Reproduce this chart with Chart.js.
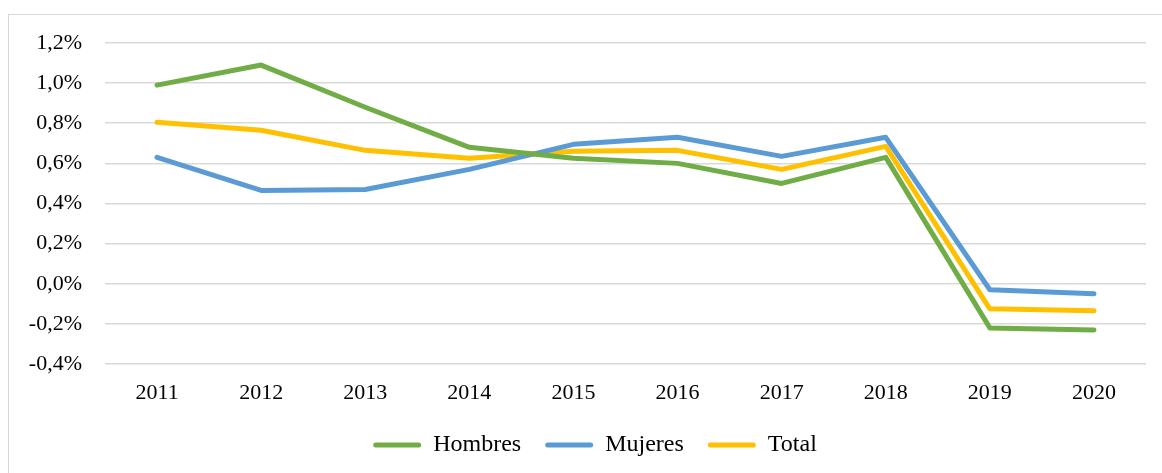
<!DOCTYPE html>
<html>
<head>
<meta charset="utf-8">
<script src="https://cdn.jsdelivr.net/npm/chart.js@4.4.1/dist/chart.umd.min.js"></script>
<style>
  html, body { margin: 0; padding: 0; background: #fff; }
  #wrap { position: relative; width: 1162px; height: 473px; overflow: hidden; }
  #frame { position: absolute; left: 8px; top: 14px; width: 1200px; height: 500px; border: 1px solid #d9d9d9; box-sizing: border-box; }
  canvas { position: absolute; left: 0; top: 0; }
</style>
</head>
<body>
<div id="wrap">
  <div id="frame"></div>
  <canvas id="c" width="1162" height="473"></canvas>
</div>
<script>
const years = ['2011','2012','2013','2014','2015','2016','2017','2018','2019','2020'];
const hombres = [0.99, 1.09, 0.88, 0.68, 0.625, 0.60, 0.50, 0.63, -0.22, -0.23];
const mujeres = [0.63, 0.465, 0.47, 0.57, 0.695, 0.73, 0.635, 0.73, -0.03, -0.05];
const total   = [0.805, 0.765, 0.665, 0.625, 0.66, 0.665, 0.57, 0.685, -0.125, -0.135];
const seriesNames = ['Hombres', 'Mujeres', 'Total'];
const colors = ['#70AD47', '#5B9BD5', '#FFC000'];

const FONT = { family: '"Liberation Serif", "Times New Roman", serif', size: 22 };
const LFONT = { family: '"Liberation Serif", "Times New Roman", serif', size: 24 };

function ds(label, data, color) {
  return { label, data, borderColor: color, backgroundColor: color, borderWidth: 5,
           pointRadius: 0, pointHoverRadius: 0, tension: 0, fill: false,
           borderCapStyle: 'round', borderJoinStyle: 'round' };
}

// centre the legend under the plot like the original (shift its box to start at x=44)
const legendShift = {
  id: 'legendShift',
  afterLayout(chart) {
    if (chart.legend) { chart.legend.left = 44; chart.legend.right = 1146; }
  }
};

new Chart(document.getElementById('c'), {
  type: 'line',
  data: {
    labels: years,
    datasets: [ds(seriesNames[0], hombres, colors[0]), ds(seriesNames[1], mujeres, colors[1]), ds(seriesNames[2], total, colors[2])]
  },
  plugins: [legendShift],
  options: {
    responsive: false,
    animation: false,
    layout: { padding: { left: 0, right: 16, top: 43, bottom: 6 } },
    plugins: {
      tooltip: { enabled: false },
      legend: {
        position: 'bottom',
        labels: {
          font: LFONT, color: '#000', boxWidth: 48, boxHeight: 5, padding: 24,
          useBorderRadius: true, borderRadius: 2.5,
          generateLabels(chart) {
            return chart.data.datasets.map((d, i) => ({
              text: d.label, fillStyle: d.borderColor, strokeStyle: d.borderColor,
              lineWidth: 0, datasetIndex: i, hidden: false, fontColor: '#000', borderRadius: 2.5
            }));
          }
        }
      }
    },
    scales: {
      x: {
        offset: true,
        grid: { display: false, drawTicks: false },
        border: { display: false },
        ticks: { font: FONT, color: '#000', padding: 16, maxRotation: 0 },
        afterFit(s) { s.height = 45; }
      },
      y: {
        min: -0.4, max: 1.2,
        grid: { color: '#d9d9d9', lineWidth: 1.5, drawTicks: false },
        border: { display: false },
        ticks: { stepSize: 0.2, font: FONT, color: '#000', padding: 23,
                 callback: v => v.toFixed(1).replace('.', ',') + '%' },
        afterFit(s) { s.width = 105; }
      }
    }
  }
});
</script>
</body>
</html>
